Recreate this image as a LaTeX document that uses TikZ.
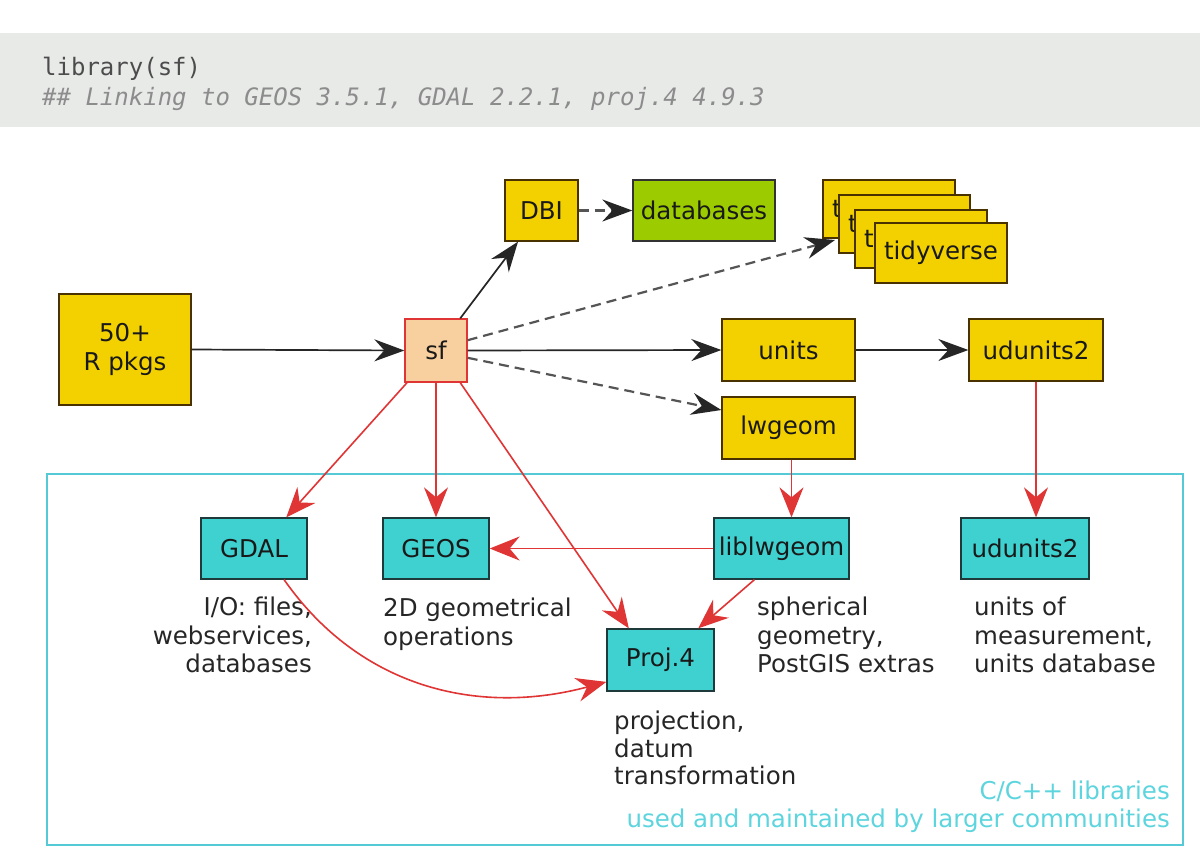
\documentclass[tikz,border=0pt]{standalone}
\usepackage{fontspec}
\setmainfont{DejaVu Sans}
\setmonofont{DejaVu Sans Mono}
\usetikzlibrary{arrows.meta}
\definecolor{yel}{HTML}{F3D100}
\definecolor{grn}{HTML}{9CCB00}
\definecolor{cyn}{HTML}{3FD0D0}
\definecolor{peach}{HTML}{F8CF9F}
\definecolor{redln}{HTML}{E03535}
\definecolor{frame}{HTML}{55C9D6}
\definecolor{capt}{HTML}{5DD5DE}
\definecolor{band}{HTML}{E8EAE8}
\definecolor{dashc}{HTML}{555555}
\definecolor{ybord}{HTML}{4A3200}
\definecolor{cbord}{HTML}{1F3A3A}
\begin{document}
\begin{tikzpicture}[x=1pt,y=-1pt,
  box/.style={draw=black!80,line width=1.3pt,inner sep=0pt,font=\fontsize{24.5}{28.5}\selectfont,text=black!90},
  ybox/.style={box,fill=yel,draw=ybord},
  cbox/.style={box,fill=cyn,draw=cbord},
  lbl/.style={inner sep=0pt,font=\fontsize{24.5}{28.5}\selectfont,text=black!85},
  blk/.style={draw=black!85,line width=1.7pt,-{Stealth[length=30pt,width=22pt,inset=10pt]}},
  dsh/.style={draw=dashc,line width=2.2pt,dash pattern=on 10pt off 6pt,-{Stealth[length=30pt,width=22pt,inset=10pt,color=black!85]}},
  rd/.style={draw=redln,line width=1.6pt,-{Stealth[length=30pt,width=24pt,inset=10pt]},color=redln}
]
\useasboundingbox (0,0) rectangle (1200,865);
\fill[white] (0,0) rectangle (1200,865);
% code band
\fill[band] (0,33) rectangle (1200,127);
\node[anchor=base west,inner sep=0pt,font=\ttfamily\fontsize{24}{28}\selectfont,text=black!70] (code1) at (42,75) {library(sf)};
\node[anchor=base west,inner sep=0pt,font=\ttfamily\itshape\fontsize{24}{28}\selectfont,text=black!45] (code2) at (42,105) {\#\# Linking to GEOS 3.5.1, GDAL 2.2.1, proj.4 4.9.3};
% frame
\draw[frame,line width=1.6pt] (47,474) rectangle (1183,845);
% top nodes
\node[ybox,minimum width=132pt,minimum height=111pt,align=center] (rpkgs) at (125,349.5) {50+\\R pkgs};
\node[box,draw=redln,fill=peach,minimum width=62pt,minimum height=63pt] (sf) at (436,350.5) {sf};
\node[ybox,minimum width=73pt,minimum height=61pt] (dbi) at (541.5,210.5) {DBI};
\node[box,fill=grn,minimum width=142pt,minimum height=61pt] (db) at (704,210.5) {databases};
\node[ybox,minimum width=132pt,minimum height=58pt,text width=114pt,align=left] (tidy1) at (889,209) {t};
\node[ybox,minimum width=131pt,minimum height=58pt,text width=113pt,align=left] (tidy2) at (904.5,224) {t};
\node[ybox,minimum width=132pt,minimum height=58pt,text width=114pt,align=left] (tidy3) at (921,239) {t};
\node[ybox,minimum width=132pt,minimum height=60pt] (tidy4) at (941,253) {tidyverse};
\node[ybox,minimum width=133pt,minimum height=62pt] (units) at (788.5,350) {units};
\node[ybox,minimum width=134pt,minimum height=62pt] (udtop) at (1036,350) {udunits2};
\node[ybox,minimum width=133pt,minimum height=62pt] (lwgeom) at (788.5,428) {lwgeom};
% bottom nodes
\node[cbox,minimum width=106pt,minimum height=61pt] (gdal) at (254,548.5) {GDAL};
\node[cbox,minimum width=106pt,minimum height=61pt] (geos) at (436,548.5) {GEOS};
\node[cbox,minimum width=135pt,minimum height=61pt] (liblw) at (781.5,548.5) {liblwgeom};
\node[cbox,minimum width=128pt,minimum height=61pt] (udbot) at (1025,548.5) {udunits2};
\node[cbox,minimum width=107pt,minimum height=62pt] (proj) at (660.5,660) {Proj.4};
% labels
\node[lbl,anchor=north east,align=right] (lgdal) at (312,597) {I/O: files,\\webservices,\\databases};
\node[lbl,anchor=north west,align=left] (lgeos) at (383,598) {2D geometrical\\operations};
\node[lbl,anchor=north west,align=left] (llw) at (757,597) {spherical\\geometry,\\PostGIS extras};
\node[lbl,anchor=north west,align=left] (lud) at (974,597) {units of\\measurement,\\units database};
\node[lbl,anchor=north west,align=left,font=\fontsize{24.5}{27.5}\selectfont] (lproj) at (614,711) {projection,\\datum\\transformation};
\node[lbl,anchor=north east,align=right,text=capt,font=\fontsize{24.5}{28}\selectfont] (cap) at (1170,781) {C/C++ libraries\\used and maintained by larger communities};
% connectors
\coordinate (tidyin) at (835,240);
\draw[blk] (rpkgs.east) -- (sf.west);
\draw[blk] (sf) -- (dbi);
\draw[dsh] (dbi.east) -- (db.west);
\draw[dsh] (sf.18) -- (tidyin);
\draw[blk] (sf.east) -- (units.west);
\draw[blk] (units.east) -- (udtop.west);
\draw[dsh] (sf.-13) -- (lwgeom.165);
\draw[rd] (udtop.south) -- (udtop.south |- udbot.north);
\draw[rd] ([xshift=3pt]lwgeom.south) -- ([xshift=3pt]lwgeom.south |- liblw.north);
\draw[rd] (sf.228) -- (gdal.44);
\draw[rd] (sf.south) -- (geos.north);
\draw[rd] (sf.-53) -- (proj.135);
\draw[rd] (liblw.west) -- (geos.east);
\draw[rd] (liblw.229) -- (proj.40);
\draw[rd] (gdal.-46) to[out=-55,in=195] (proj.202);
\end{tikzpicture}
\end{document}
